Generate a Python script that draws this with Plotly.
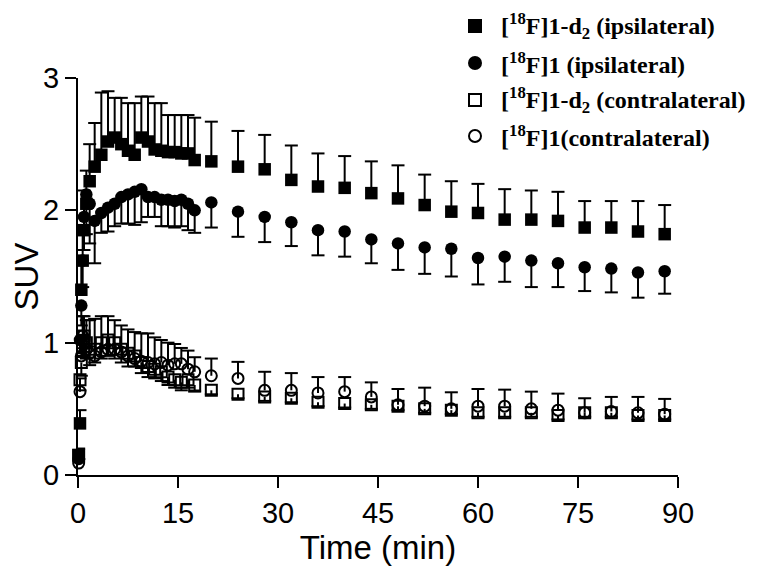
import plotly.graph_objects as go

# ---------------- data ----------------
time_min = [0.1, 0.3, 0.5, 0.7, 0.9, 1.25, 1.75, 2.5, 3.5, 4.5, 5.5, 6.5, 7.5, 8.5,
            9.5, 10.5, 11.5, 12.5, 13.5, 14.5, 15.5, 16.5, 17.5,
            20, 24, 28, 32, 36, 40, 44, 48, 52, 56, 60, 64, 68, 72, 76, 80, 84, 88]

# [18F]1-d2 ipsilateral (filled squares), SD drawn upward
d2_ipsi = [0.15, 0.39, 1.40, 1.62, 1.85, 2.05, 2.22, 2.33, 2.42, 2.52, 2.55, 2.50, 2.45, 2.42,
           2.55, 2.52, 2.46, 2.45, 2.44, 2.44, 2.43, 2.43, 2.38,
           2.37, 2.33, 2.31, 2.23, 2.18, 2.17, 2.13, 2.09, 2.04, 1.99, 1.98, 1.93, 1.93, 1.92,
           1.87, 1.87, 1.84, 1.82]
d2_ipsi_sd = [0.05, 0.10, 0.20, 0.25, 0.30, 0.25, 0.28, 0.33, 0.47, 0.38, 0.30, 0.35, 0.36, 0.39,
              0.31, 0.34, 0.35, 0.36, 0.28, 0.28, 0.29, 0.29, 0.32,
              0.30, 0.27, 0.26, 0.26, 0.25, 0.24, 0.24, 0.25, 0.23, 0.23, 0.22, 0.23, 0.22, 0.22,
              0.20, 0.20, 0.23, 0.22]

# [18F]1 ipsilateral (filled circles), SD drawn downward
f1_ipsi = [0.12, 1.02, 1.28, 1.62, 1.95, 2.12, 2.05, 1.92, 1.98, 2.02, 2.05, 2.10, 2.12, 2.14,
           2.16, 2.10, 2.10, 2.08, 2.08, 2.07, 2.08, 2.05, 2.00,
           2.06, 1.99, 1.95, 1.91, 1.85, 1.84, 1.78, 1.75, 1.72, 1.71, 1.64, 1.65, 1.62, 1.60,
           1.57, 1.56, 1.53, 1.54]
f1_ipsi_sd = [0.00, 0.10, 0.15, 0.20, 0.25, 0.30, 0.30, 0.32, 0.15, 0.18, 0.17, 0.20, 0.22, 0.25,
              0.25, 0.15, 0.15, 0.20, 0.20, 0.20, 0.20, 0.20, 0.17,
              0.19, 0.19, 0.19, 0.18, 0.19, 0.19, 0.18, 0.20, 0.20, 0.21, 0.20, 0.19, 0.20, 0.18,
              0.18, 0.18, 0.19, 0.17]

# [18F]1-d2 contralateral (open squares), SD drawn downward
d2_contra = [0.15, 0.72, 0.85, 1.00, 1.05, 1.00, 0.93, 0.95, 1.00, 1.02, 1.00, 0.95, 0.92, 0.90,
             0.85, 0.82, 0.80, 0.78, 0.74, 0.72, 0.70, 0.72, 0.68,
             0.64, 0.61, 0.59, 0.58, 0.55, 0.54, 0.53, 0.52, 0.50, 0.49, 0.47, 0.47, 0.47, 0.45,
             0.47, 0.47, 0.45, 0.45]
d2_contra_sd = [0.03, 0.08, 0.10, 0.10, 0.12, 0.12, 0.10, 0.10, 0.12, 0.12, 0.12, 0.10, 0.10, 0.08,
                0.08, 0.08, 0.07, 0.07, 0.06, 0.06, 0.06, 0.06, 0.05,
                0.03, 0.03, 0.03, 0.03, 0.03, 0.03, 0.03, 0.03, 0.03, 0.03, 0.03, 0.03, 0.03, 0.03,
                0.03, 0.03, 0.03, 0.03]

# [18F]1 contralateral (open circles), SD drawn upward
f1_contra = [0.09, 0.63, 0.90, 1.05, 1.02, 0.95, 0.92, 0.90, 0.93, 0.95, 0.95, 0.93, 0.90, 0.88,
             0.86, 0.85, 0.84, 0.85, 0.83, 0.84, 0.84, 0.80, 0.78,
             0.75, 0.73, 0.64, 0.64, 0.62, 0.63, 0.59, 0.53, 0.52, 0.50, 0.52, 0.52, 0.50, 0.49,
             0.47, 0.48, 0.47, 0.46]
f1_contra_sd = [0.03, 0.10, 0.15, 0.15, 0.18, 0.22, 0.25, 0.28, 0.27, 0.25, 0.22, 0.20, 0.20, 0.20,
                0.21, 0.22, 0.20, 0.17, 0.17, 0.15, 0.12, 0.14, 0.11,
                0.13, 0.125, 0.14, 0.13, 0.12, 0.11, 0.11, 0.12, 0.14, 0.125, 0.13, 0.125, 0.13, 0.125,
                0.11, 0.11, 0.12, 0.115]

x_ticks = [0, 15, 30, 45, 60, 75, 90]
y_ticks = [0, 1, 2, 3]

labels = ["[<sup>18</sup>F]1-d<sub>2</sub> (ipsilateral)",
          "[<sup>18</sup>F]1 (ipsilateral)",
          "[<sup>18</sup>F]1-d<sub>2</sub> (contralateral)",
          "[<sup>18</sup>F]1(contralateral)"]

# ---------------- layout constants ----------------
# page body has an 8px margin, so the figure is sized to fit inside the window
W, H = 753, 561
M_L, M_R, M_T, M_B = 70, 83, 70, 94
X_RANGE = [0, 90]
Y_RANGE = [0, 3]
CAP_PX = 6.5
PLOT_W = W - M_L - M_R
PLOT_H = H - M_T - M_B
cap_half = CAP_PX * (X_RANGE[1] - X_RANGE[0]) / PLOT_W

# legend key placement (pixels inside the figure)
LEG_SYM_X = 467
LEG_TEXT_X = 491
LEG_ROW_Y = [18, 55, 92, 128]
LEG_SYM = 14


def err_path(xs, ys, errs, direction):
    px, py = [], []
    for x, y, e in zip(xs, ys, errs):
        if e <= 0:
            continue
        end = y + direction * e
        px += [x, x, None, x - cap_half, x + cap_half, None]
        py += [y, end, None, end, end, None]
    return px, py


def paper_x(px):
    return (px - M_L) / PLOT_W


def paper_y(py):
    return (M_T + PLOT_H - py) / PLOT_H


fig = go.Figure()

series = [
    # (values, sd, direction, symbol, label index)
    (d2_contra, d2_contra_sd, -1, "square-open", 2),
    (f1_contra, f1_contra_sd, +1, "circle-open", 3),
    (f1_ipsi, f1_ipsi_sd, -1, "circle", 1),
    (d2_ipsi, d2_ipsi_sd, +1, "square", 0),
]

for vals, sd, direction, sym, li in series:
    ex, ey = err_path(time_min, vals, sd, direction)
    fig.add_trace(go.Scatter(x=ex, y=ey, mode="lines",
                             line=dict(color="black", width=2),
                             showlegend=False, hoverinfo="skip", cliponaxis=False))
for vals, sd, direction, sym, li in series:
    is_open = sym.endswith("open")
    fig.add_trace(go.Scatter(
        x=time_min, y=vals, mode="markers", name=labels[li], showlegend=False,
        marker=dict(symbol=sym, size=11 if is_open else 12.5, color="black",
                    line=dict(color="black", width=2 if is_open else 0)),
        cliponaxis=False))

# legend key drawn as layout shapes + text annotations
shapes, annotations = [], []
for li, sym in [(0, "square"), (1, "circle"), (2, "square-open"), (3, "circle-open")]:
    is_open = sym.endswith("open")
    half = LEG_SYM / 2 - (1 if is_open else 0)
    shapes.append(dict(
        type="rect" if sym.startswith("square") else "circle",
        xref="paper", yref="paper", xsizemode="pixel", ysizemode="pixel",
        xanchor=paper_x(LEG_SYM_X), yanchor=paper_y(LEG_ROW_Y[li]),
        x0=-half, x1=half, y0=-half, y1=half,
        fillcolor="rgba(0,0,0,0)" if is_open else "black",
        line=dict(color="black", width=2 if is_open else 0)))
    annotations.append(dict(
        text=labels[li], xref="paper", yref="paper",
        x=paper_x(LEG_TEXT_X), y=paper_y(LEG_ROW_Y[li]),
        xanchor="left", yanchor="middle", showarrow=False,
        font=dict(family="Liberation Serif, Times New Roman, serif", size=24,
                  color="black", weight="bold")))

fig.update_layout(
    width=W, height=H,
    margin=dict(l=M_L, r=M_R, t=M_T, b=M_B, pad=0, autoexpand=False),
    paper_bgcolor="white", plot_bgcolor="white",
    showlegend=False,
    shapes=shapes, annotations=annotations,
    font=dict(family="Liberation Sans, Arial, sans-serif", color="black"),
)

fig.update_xaxes(range=X_RANGE, tickvals=x_ticks, ticks="outside", ticklen=11, tickwidth=2,
                 tickcolor="black", showline=True, linecolor="black", linewidth=2,
                 showgrid=False, zeroline=False, tickfont=dict(size=29), automargin=False,
                 title=dict(text="Time (min)", font=dict(size=33), standoff=6))
fig.update_yaxes(range=Y_RANGE, tickvals=y_ticks, ticks="outside", ticklen=11, tickwidth=2,
                 tickcolor="black", showline=True, linecolor="black", linewidth=2,
                 showgrid=False, zeroline=False, tickfont=dict(size=29), automargin=True,
                 title=dict(text="SUV", font=dict(size=33), standoff=20))

fig.write_html("out.html")
